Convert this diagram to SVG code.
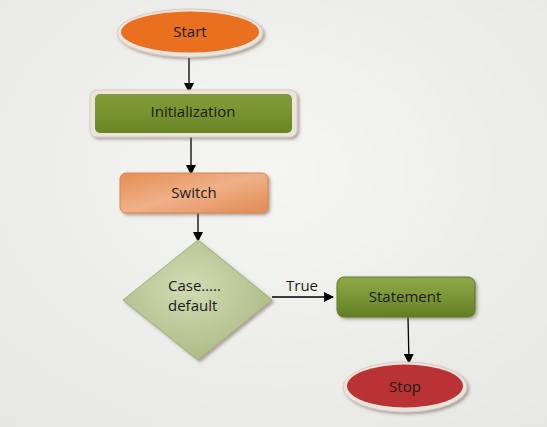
<svg xmlns="http://www.w3.org/2000/svg" width="547" height="427" viewBox="0 0 547 427">
<defs>
<radialGradient id="bg" cx="0.5" cy="0.4" r="0.8">
<stop offset="0" stop-color="#f5f5f4"/>
<stop offset="1" stop-color="#e6e7e5"/>
</radialGradient>
<linearGradient id="gGreen" x1="0" y1="0" x2="0" y2="1">
<stop offset="0" stop-color="#819c3a"/>
<stop offset="0.5" stop-color="#77922e"/>
<stop offset="1" stop-color="#6a8527"/>
</linearGradient>
<linearGradient id="gStmt" x1="0" y1="0" x2="0" y2="1">
<stop offset="0" stop-color="#8fa94a"/>
<stop offset="0.5" stop-color="#7a9634"/>
<stop offset="1" stop-color="#627d22"/>
</linearGradient>
<linearGradient id="gSwitch" x1="0" y1="0" x2="1" y2="1">
<stop offset="0" stop-color="#e58e55"/>
<stop offset="0.5" stop-color="#f0b088"/>
<stop offset="1" stop-color="#e08a52"/>
</linearGradient>
<radialGradient id="gDia" cx="0.45" cy="0.4" r="0.6">
<stop offset="0" stop-color="#d2dab5"/>
<stop offset="1" stop-color="#afbc85"/>
</radialGradient>
<filter id="sh" x="-10%" y="-10%" width="130%" height="140%">
<feDropShadow dx="2" dy="2" stdDeviation="1.5" flood-color="#6b5a48" flood-opacity="0.5"/>
</filter>
<marker id="ah" markerWidth="10" markerHeight="10" refX="9" refY="5" orient="auto" markerUnits="userSpaceOnUse">
<path d="M0,0 L10,5 L0,10 z" fill="#000"/>
</marker>
</defs>
<style>
.t{font-family:"Open Sans","Liberation Sans",sans-serif;font-size:15px;fill:#1c1c1c;text-anchor:middle}
.tl{font-family:"Open Sans","Liberation Sans",sans-serif;font-size:15px;fill:#1c1c1c}
.c{stroke:#000;stroke-width:1.3;fill:none;marker-end:url(#ah)}
.rim{fill:#ece4dc;stroke:#d6cbbf;stroke-width:1}
</style>
<rect width="547" height="427" fill="url(#bg)"/>
<g id="connectors">
<line class="c" x1="189" y1="58" x2="189" y2="92"/>
<line class="c" x1="191" y1="137" x2="191" y2="174"/>
<line class="c" x1="198" y1="213" x2="198" y2="241"/>
<line class="c" x1="272" y1="297" x2="333" y2="297"/>
<line class="c" x1="408" y1="317" x2="409" y2="363"/>
<text class="tl" x="286" y="291">True</text>
</g>
<g id="start">
<ellipse class="rim" cx="190" cy="33" rx="73" ry="24" filter="url(#sh)"/>
<ellipse cx="190" cy="32" rx="69" ry="20.5" fill="#e8701f"/>
<text class="t" x="190" y="37">Start</text>
</g>
<g id="initialization">
<rect class="rim" x="90" y="90" width="207" height="47" rx="7" filter="url(#sh)"/>
<rect x="95" y="94" width="197" height="39" rx="5" fill="url(#gGreen)"/>
<text class="t" x="193" y="117">Initialization</text>
</g>
<g id="switch">
<rect x="120" y="173" width="148" height="40" rx="6" fill="url(#gSwitch)" stroke="#d98650" stroke-width="1" filter="url(#sh)"/>
<text class="t" x="194" y="198">Switch</text>
</g>
<g id="case">
<polygon points="198,240 272,300 198,360 123,300" fill="url(#gDia)" stroke="#a3b078" stroke-width="1" filter="url(#sh)"/>
<text class="tl" x="168" y="291">Case…..</text>
<text class="tl" x="168" y="311">default</text>
</g>
<g id="statement">
<rect x="337" y="277" width="138" height="40" rx="7" fill="url(#gStmt)" stroke="#5d7a20" stroke-width="1" filter="url(#sh)"/>
<text class="t" x="405" y="302">Statement</text>
</g>
<g id="stop">
<ellipse class="rim" cx="405" cy="387" rx="62" ry="25" filter="url(#sh)"/>
<ellipse cx="405" cy="386" rx="58" ry="21.5" fill="#b93234"/>
<text class="t" x="405" y="392">Stop</text>
</g>
</svg>
